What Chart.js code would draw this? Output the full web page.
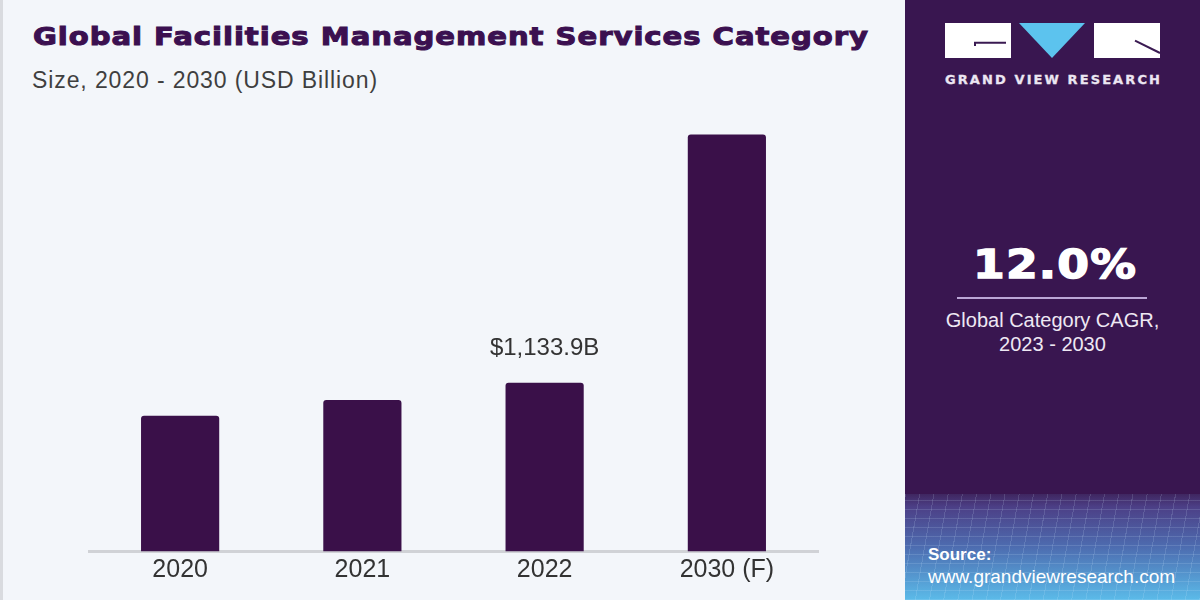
<!DOCTYPE html>
<html>
<head>
<meta charset="utf-8">
<script src="https://cdn.jsdelivr.net/npm/chart.js@4.4.1/dist/chart.umd.min.js"></script>
<style>
  body { margin: 0; }
  #wrap {
    position: relative;
    width: 1200px;
    height: 600px;
    background: #f3f6fa;
    overflow: hidden;
    font-family: "Liberation Sans", Arial, sans-serif;
  }
  .edge { position: absolute; left: 0; top: 0; width: 3px; height: 600px; background: #d9dbdf; }
  .txt { position: absolute; white-space: nowrap; line-height: 1; transform-origin: 0 0; }
  #title {
    left: 33px; top: 23px;
    font: bold 24px "DejaVu Sans", sans-serif; color: #3b1050;
    -webkit-text-stroke: 1px #3b1050;
  }
  #subtitle { left: 32px; top: 68.5px; font-size: 23px; color: #3f3f3f; }
  #chartBox { position: absolute; left: 0; top: 0; width: 905px; height: 600px; }
  #panel { position: absolute; left: 905px; top: 0; width: 295px; height: 600px; background: #391650; overflow: hidden; }
  #panelGrid {
    position: absolute; left: 0; top: 494px; width: 295px; height: 106px;
    background:
      repeating-linear-gradient(100deg, rgba(210,235,255,0.15) 0 1px, transparent 1px 14px),
      repeating-linear-gradient(0deg, rgba(210,235,255,0.15) 0 1px, transparent 1px 9px),
      linear-gradient(#3f2660 0%, #4c3f86 12%, #4d6cb0 50%, #5bbbe9 100%);
  }
  #brand { left: 40px; top: 72.3px; font: bold 13px "DejaVu Sans", sans-serif; color: #ece6f2; -webkit-text-stroke: 0.3px #ece6f2; }
  #cagr { left: 68px; top: 242px; font: bold 39px "DejaVu Sans", sans-serif; color: #ffffff; -webkit-text-stroke: 1.4px #ffffff; }
  #cagrLine { position: absolute; left: 52px; top: 297px; width: 190px; height: 2px; background: #bba6d6; }
  .cagrNote { left: 0; width: 295px; text-align: center; font-size: 20px; color: #eee8f3; }
  #source { left: 23px; top: 545.6px; font-weight: bold; font-size: 17px; color: #ffffff; }
  #url { left: 23px; top: 567.2px; font-size: 19px; color: #ffffff; }
</style>
</head>
<body>
<div id="wrap">
  <div class="edge"></div>
  <div id="title" class="txt">Global Facilities Management Services Category</div>
  <div id="subtitle" class="txt">Size, 2020 - 2030 (USD Billion)</div>
  <div id="chartBox"><canvas id="marketChart" width="905" height="600"></canvas></div>
  <div id="panel">
    <svg style="position:absolute;left:0;top:0" width="295" height="70">
      <rect x="40" y="23" width="66" height="35" fill="#ffffff"/>
      <polyline points="70,46 70,42.7 101,42.7" fill="none" stroke="#3a1a52" stroke-width="2"/>
      <polygon points="114,23 180,23 147,58" fill="#5cc3ee"/>
      <rect x="189" y="23" width="66" height="35" fill="#ffffff"/>
      <polyline points="230,40.7 255,53" fill="none" stroke="#3a1a52" stroke-width="2"/>
    </svg>
    <div id="brand" class="txt">GRAND VIEW RESEARCH</div>
    <div id="cagr" class="txt">12.0%</div>
    <div id="cagrLine"></div>
    <div class="txt cagrNote" style="top:310px">Global Category CAGR,</div>
    <div class="txt cagrNote" style="top:334px">2023 - 2030</div>
    <div id="panelGrid"></div>
    <div id="source" class="txt">Source:</div>
    <div id="url" class="txt">www.grandviewresearch.com</div>
  </div>
</div>

<script>
// Chart data
const years = ["2020", "2021", "2022", "2030 (F)"];
const marketSize = [912, 1018, 1133.9, 2802];
const barLabels = [null, null, "$1,133.9B", null];

// Stretch a line of text to a given width with letter spacing
function fitWidth(id, target) {
  const el = document.getElementById(id);
  el.style.letterSpacing = "0px";
  const w = el.getBoundingClientRect().width;
  const n = el.textContent.length;
  el.style.letterSpacing = (target - w) / n + "px";
}

// Widen heavy text horizontally (glyphs get wider, not the gaps)
function stretchWidth(id, target, spacing) {
  const el = document.getElementById(id);
  el.style.letterSpacing = spacing + "px";
  const w = el.getBoundingClientRect().width;
  el.style.transform = "scaleX(" + target / w + ")";
}

stretchWidth("title", 836, 0.8);
fitWidth("subtitle", 346);
fitWidth("brand", 217);
stretchWidth("cagr", 164, 1);

// Draw the value label above the bars that have one
const barValueLabels = {
  id: "barValueLabels",
  afterDatasetsDraw(chart) {
    const ctx = chart.ctx;
    const meta = chart.getDatasetMeta(0);
    ctx.save();
    ctx.font = '24px "Liberation Sans", Arial, sans-serif';
    ctx.fillStyle = "#333333";
    ctx.textAlign = "center";
    ctx.textBaseline = "alphabetic";
    meta.data.forEach((bar, i) => {
      if (barLabels[i]) {
        ctx.fillText(barLabels[i], bar.x, bar.y - 28);
      }
    });
    ctx.restore();
  },
};

const ctx = document.getElementById("marketChart").getContext("2d");
new Chart(ctx, {
  type: "bar",
  data: {
    labels: years,
    datasets: [
      {
        data: marketSize,
        backgroundColor: "#3a1049",
        borderRadius: { topLeft: 3, topRight: 3 },
        borderSkipped: "bottom",
        barPercentage: 1,
        categoryPercentage: 0.429,
      },
    ],
  },
  options: {
    responsive: false,
    animation: false,
    layout: {
      padding: { left: 89, right: 87, top: 105, bottom: 10.5 },
    },
    plugins: {
      legend: { display: false },
      tooltip: { enabled: false },
    },
    scales: {
      x: {
        grid: { display: false, drawTicks: false },
        border: { display: true, color: "#d0d2d6", width: 3 },
        ticks: {
          color: "#333333",
          padding: 4,
          font: { family: '"Liberation Sans", Arial, sans-serif', size: 25 },
        },
      },
      y: {
        display: false,
        min: 0,
        max: 3000,
      },
    },
  },
  plugins: [barValueLabels],
});
</script>
</body>
</html>
